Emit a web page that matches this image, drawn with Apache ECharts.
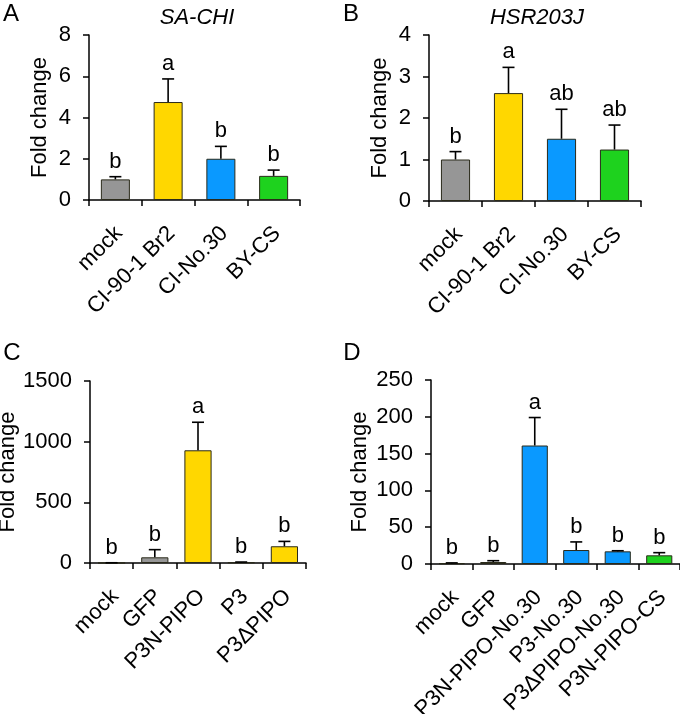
<!DOCTYPE html>
<html>
<head>
<meta charset="utf-8">
<script src="https://cdn.jsdelivr.net/npm/echarts@6/dist/echarts.min.js"></script>
<style>
html,body{margin:0;padding:0;background:#fff;}
#c{width:680px;height:714px;}
</style>
</head>
<body>
<div id="c"></div>
<script>
// ---- Data ----
const catsA = ['mock', 'CI-90-1 Br2', 'CI-No.30', 'BY-CS'];
const valsA = [1.0, 4.75, 2.0, 1.17];
const errsA = [0.13, 1.12, 0.6, 0.28];
const letA = ['b', 'a', 'b', 'b'];

const catsB = ['mock', 'CI-90-1 Br2', 'CI-No.30', 'BY-CS'];
const valsB = [1.0, 2.6, 1.5, 1.24];
const errsB = [0.19, 0.62, 0.71, 0.59];
const letB = ['b', 'a', 'ab', 'ab'];

const catsC = ['mock', 'GFP', 'P3N-PIPO', 'P3', 'P3ΔPIPO'];
const valsC = [1, 47, 929, 5, 138];
const errsC = [1, 63, 231, 3, 40];
const letC = ['b', 'b', 'a', 'b', 'b'];

const catsD = ['mock', 'GFP', 'P3N-PIPO-No.30', 'P3-No.30', 'P3ΔPIPO-No.30', 'P3N-PIPO-CS'];
const valsD = [1, 2.7, 161, 19, 17.2, 11.8];
const errsD = [0.5, 1.8, 38, 11, 0.8, 3.6];
const letD = ['b', 'b', 'a', 'b', 'b', 'b'];

const yTicksA = {min: 0, max: 8, interval: 2};
const yTicksB = {min: 0, max: 4, interval: 1};
const yTicksC = {min: 0, max: 1500, interval: 500};
const yTicksD = {min: 0, max: 250, interval: 50};

// ---- Styles ----
const GRAY = '#969696', YEL = '#FFD700', BLUE = '#0A99FF', GREEN = '#1ED21E';
const colA = [GRAY, YEL, BLUE, GREEN];
const colB = [GRAY, YEL, BLUE, GREEN];
const colC = [GRAY, GRAY, YEL, YEL, YEL];
const colD = [GRAY, GRAY, BLUE, BLUE, BLUE, GREEN];

const FONT = 'Liberation Sans, Arial, sans-serif';
const FS = 22;

const grids = [
  {left: 89, top: 35, width: 211, height: 165, outerBoundsMode: 'none', containLabel: false},
  {left: 429, top: 35, width: 212, height: 166, outerBoundsMode: 'none', containLabel: false},
  {left: 90, top: 381, width: 216, height: 182, outerBoundsMode: 'none', containLabel: false},
  {left: 431, top: 380, width: 249, height: 184, outerBoundsMode: 'none', containLabel: false}
];
const nameGaps = [38, 38, 68, 60];
const barW = ['55%', '55%', '63%', '63%'];

const panels = [
  {cats: catsA, vals: valsA, errs: errsA, lets: letA, cols: colA, y: yTicksA},
  {cats: catsB, vals: valsB, errs: errsB, lets: letB, cols: colB, y: yTicksB},
  {cats: catsC, vals: valsC, errs: errsC, lets: letC, cols: colC, y: yTicksC},
  {cats: catsD, vals: valsD, errs: errsD, lets: letD, cols: colD, y: yTicksD}
];

const axisLine = {show: true, lineStyle: {color: '#000', width: 1.5}};
const axisTick = {show: true, length: 6, lineStyle: {color: '#000', width: 1.5}};

const xAxes = [], yAxes = [], series = [];
panels.forEach((p, i) => {
  xAxes.push({
    type: 'category', gridIndex: i, data: p.cats,
    axisLine: axisLine, axisTick: Object.assign({alignWithLabel: false}, axisTick),
    axisLabel: {interval: 0, rotate: 45, color: '#000', fontSize: FS, fontFamily: FONT,
      margin: 18, verticalAlign: 'top', padding: [0, 6, 0, 0], hideOverlap: false}
  });
  yAxes.push({
    type: 'value', gridIndex: i, min: p.y.min, max: p.y.max, interval: p.y.interval,
    name: 'Fold change', nameLocation: 'middle', nameGap: nameGaps[i],
    nameTextStyle: {color: '#000', fontSize: FS, fontFamily: FONT},
    axisLine: axisLine, axisTick: axisTick, splitLine: {show: false},
    axisLabel: {color: '#000', fontSize: FS, fontFamily: FONT, margin: 18,
      formatter: function (v) { return String(v); }}
  });
  series.push({
    type: 'bar', xAxisIndex: i, yAxisIndex: i, barWidth: barW[i],
    data: p.vals.map((v, k) => ({value: v, itemStyle: {color: p.cols[k]}})),
    itemStyle: {borderColor: '#2a2a1a', borderWidth: 1},
    z: 2
  });
  const lets = p.lets;
  series.push({
    type: 'custom', xAxisIndex: i, yAxisIndex: i, z: 3,
    data: p.vals.map((v, k) => [k, v, p.errs[k]]),
    renderItem: function (params, api) {
      const x = api.value(0), v = api.value(1), e = api.value(2);
      const b = api.coord([x, v]);
      const t = api.coord([x, v + e]);
      const half = 6;
      return {
        type: 'group',
        children: [
          {type: 'line', shape: {x1: b[0], y1: b[1], x2: t[0], y2: t[1]}, style: {stroke: '#000', lineWidth: 1.6}},
          {type: 'line', shape: {x1: t[0] - half, y1: t[1], x2: t[0] + half, y2: t[1]}, style: {stroke: '#000', lineWidth: 1.6}},
          {type: 'text', style: {text: lets[params.dataIndex], x: t[0], y: t[1] - 4,
            align: 'center', verticalAlign: 'bottom', textAlign: 'center', textVerticalAlign: 'bottom',
            font: FS + 'px ' + FONT, fill: '#000'}}
        ]
      };
    }
  });
});

function txt(s, x, y, size, italic) {
  return {type: 'text', x: x, y: y, style: {text: s, font: (italic ? 'italic ' : '') + size + 'px ' + FONT,
    fill: '#000', align: 'center', verticalAlign: 'middle', textAlign: 'center', textVerticalAlign: 'middle'}};
}

const option = {
  animation: false,
  grid: grids,
  xAxis: xAxes,
  yAxis: yAxes,
  series: series,
  graphic: [
    txt('A', 11, 14, 24), txt('B', 351, 14, 24),
    txt('C', 12, 353, 24), txt('D', 352, 353, 24),
    txt('SA-CHI', 197, 18, FS, true), txt('HSR203J', 537, 18, FS, true)
  ]
};
const chart = echarts.init(document.getElementById('c'), null, {renderer: 'canvas'});
chart.setOption(option);
</script>
</body>
</html>
